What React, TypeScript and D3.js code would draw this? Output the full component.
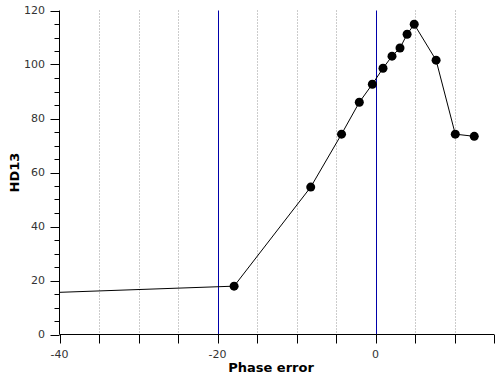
import React from "react";
import * as d3 from "d3";

const phaseError = [-45, -17.9, -8.2, -4.3, -2.05, -0.4, 0.95, 2.09, 3.1, 4.0, 4.9, 7.67, 10.1, 12.5];
const hd13 = [15.1, 17.9, 54.6, 74.2, 86.0, 92.7, 98.6, 103.1, 106.1, 111.2, 114.9, 101.6, 74.2, 73.4];
const xTickValues = [-40, -35, -30, -25, -20, -15, -10, -5, 0, 5, 10, 15];
const xLabelValues = [-40, -20, 0];
const xGridDotted = [-35, -30, -25, -15, -10, -5, 5, 10];
const xGridSolid = [-20, 0];
const yMajor = [0, 20, 40, 60, 80, 100, 120];
const yMinor = [5, 10, 15, 25, 30, 35, 45, 50, 55, 65, 70, 75, 85, 90, 95, 105, 110, 115];

export default function App() {
  const W = 501, H = 382;
  const left = 59.5, right = 494, top = 10.5, bottom = 334.5;
  const x = d3.scaleLinear().domain([-40, 15]).range([left, right]);
  const y = d3.scaleLinear().domain([0, 120]).range([bottom, top]);
  const pts = phaseError.map((p, i) => [p, hd13[i]] as [number, number]);
  const line = d3.line<[number, number]>().x(d => x(d[0])).y(d => y(d[1]));
  const font = "DejaVu Sans, sans-serif";
  return (
    <svg width={W} height={H} style={{ position: "absolute", left: 0, top: 0 }}>
      <defs>
        <clipPath id="plot">
          <rect x={left} y={0} width={right - left + 10} height={bottom} />
        </clipPath>
      </defs>
      {xGridDotted.map(v => (
        <line key={"g" + v} x1={Math.round(x(v)) + 0.5} x2={Math.round(x(v)) + 0.5} y1={top} y2={bottom}
          stroke="#999" strokeWidth={1} strokeDasharray="1,2" />
      ))}
      {xGridSolid.map(v => (
        <line key={"s" + v} x1={Math.round(x(v)) + 0.5} x2={Math.round(x(v)) + 0.5} y1={top} y2={bottom}
          stroke="#0000aa" strokeWidth={1} />
      ))}
      <g clipPath="url(#plot)">
        <path d={line(pts) || ""} fill="none" stroke="#000" strokeWidth={1} />
        {pts.filter(d => d[0] >= -40).map((d, i) => (
          <circle key={i} cx={x(d[0])} cy={y(d[1])} r={4.5} fill="#000" />
        ))}
      </g>
      <line x1={left} x2={left} y1={top} y2={bottom} stroke="#000" />
      <line x1={left} x2={right} y1={bottom} y2={bottom} stroke="#000" />
      {yMajor.map(v => (
        <g key={"ym" + v}>
          <line x1={left - 9} x2={left} y1={Math.round(y(v)) + 0.5} y2={Math.round(y(v)) + 0.5} stroke="#000" />
          <text x={45} y={y(v)} dy="0.35em" textAnchor="end" fontFamily={font} fontSize={11} fill="#333">{v}</text>
        </g>
      ))}
      {yMinor.map(v => (
        <line key={"yn" + v} x1={left - 5} x2={left} y1={Math.round(y(v)) + 0.5} y2={Math.round(y(v)) + 0.5} stroke="#000" />
      ))}
      {xTickValues.map(v => (
        <line key={"xt" + v} x1={Math.round(x(v)) + 0.5} x2={Math.round(x(v)) + 0.5} y1={bottom} y2={bottom + 9} stroke="#000" />
      ))}
      {xLabelValues.map(v => (
        <text key={"xl" + v} x={x(v)} y={354} dy="0.35em" textAnchor="middle" fontFamily={font} fontSize={11} fill="#333">{v}</text>
      ))}
      <text x={271} y={367} dy="0.35em" textAnchor="middle" fontFamily={font} fontSize={13} fontWeight="bold" fill="#000">Phase error</text>
      <text transform={`translate(14,${(top + bottom) / 2}) rotate(-90)`} textAnchor="middle" dy="0.35em" fontFamily={font} fontSize={13} fontWeight="bold" fill="#000">HD13</text>
    </svg>
  );
}
